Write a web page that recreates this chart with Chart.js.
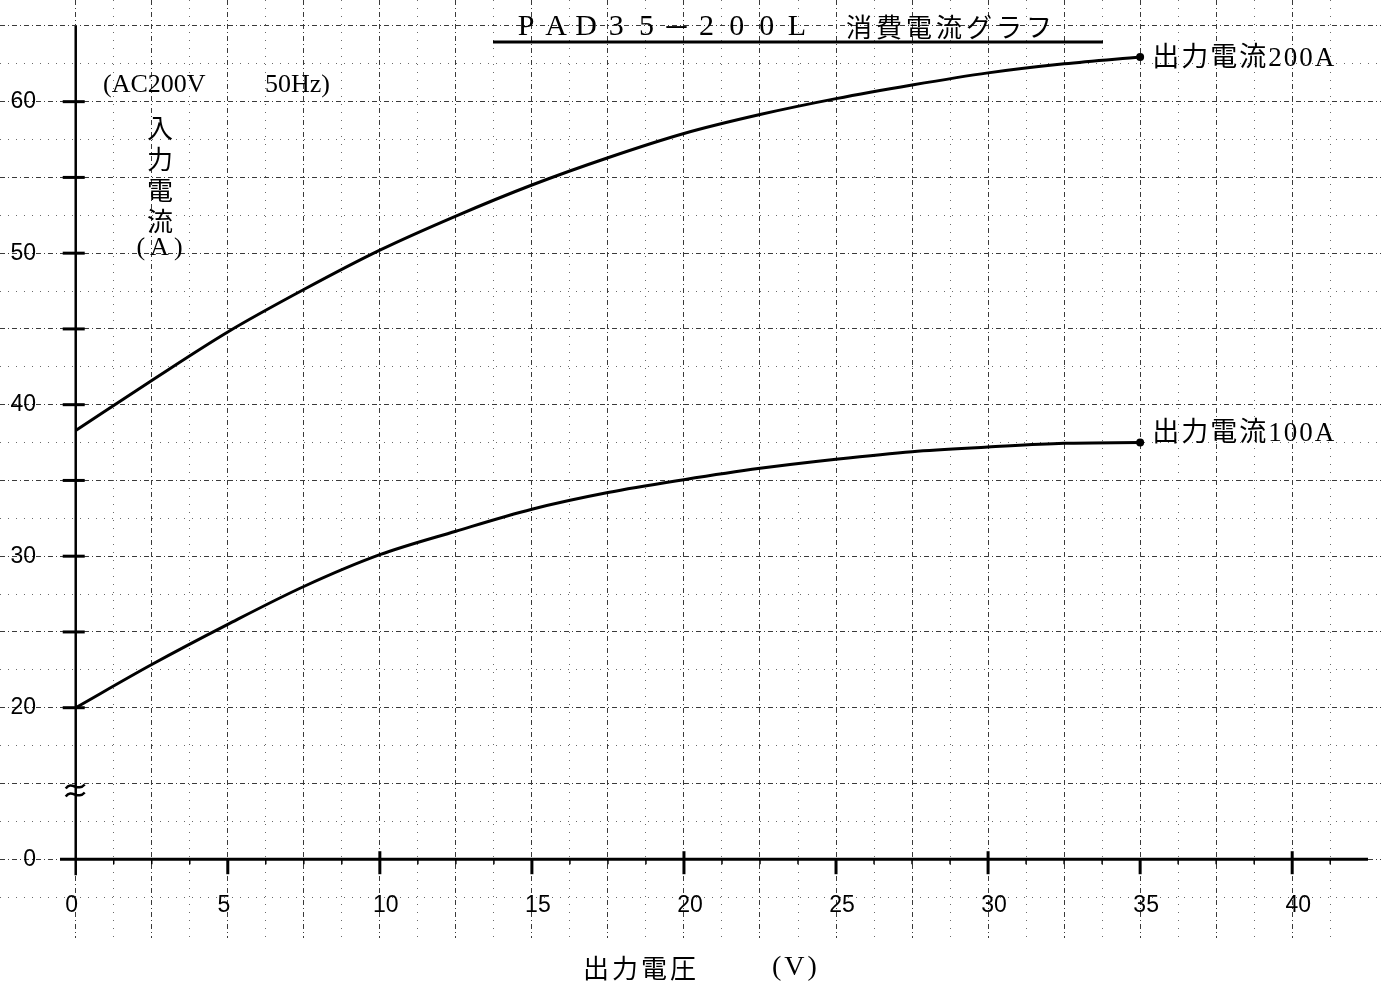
<!DOCTYPE html>
<html>
<head>
<meta charset="utf-8">
<script src="https://cdn.jsdelivr.net/npm/chart.js@4.4.1/dist/chart.umd.min.js"></script>
<style>
  html, body { margin: 0; padding: 0; background: #fff; }
  #wrap { width: 1381px; height: 984px; }
</style>
</head>
<body>
<div id="wrap"><canvas id="currentChart"></canvas></div>
<script>
// output voltage (V)
const voltage = [0, 2.5, 5, 7.5, 10, 12.5, 15, 17.5, 20, 22.5, 25, 27.5, 30, 32.5, 35];
// input current (A)
const current200 = [38.3, 41.6, 44.8, 47.6, 50.2, 52.45, 54.5, 56.3, 57.9, 59.15, 60.2, 61.1, 61.9, 62.5, 62.95];
const current100 = [20.0, 22.85, 25.5, 28.0, 30.1, 31.65, 33.1, 34.2, 35.05, 35.8, 36.4, 36.9, 37.2, 37.45, 37.5];
const seriesNames = ['出力電流200A', '出力電流100A'];

const xTicks = [0, 5, 10, 15, 20, 25, 30, 35, 40];
const yTicks = [0, 20, 30, 40, 50, 60];

// y axis is broken: 0..20 is squeezed into 10 units
function brokenY(v) { return v >= 20 ? v : 10 + v / 2; }

const ctx = document.getElementById('currentChart').getContext('2d');

function gridColor(step, color) {
  return c => {
    const v = c.tick.value;
    const r = Math.abs(v / step - Math.round(v / step));
    return r < 1e-6 ? color : 'rgba(0,0,0,0)';
  };
}
function minorColor(step, majorStep, color) {
  return c => {
    const v = c.tick.value;
    const onStep = Math.abs(v / step - Math.round(v / step)) < 1e-6;
    const onMajor = Math.abs(v / majorStep - Math.round(v / majorStep)) < 1e-6;
    return onStep && !onMajor ? color : 'rgba(0,0,0,0)';
  };
}

const paperAxes = {
  id: 'paperAxes',
  afterDraw(chart) {
    const c = chart.ctx;
    const x = chart.scales.x, y = chart.scales.y;
    const x0 = x.getPixelForValue(0);
    const y0 = y.getPixelForValue(brokenY(0));
    const seg = (a, b, d, e) => { c.beginPath(); c.moveTo(a, b); c.lineTo(d, e); c.stroke(); };

    c.save();
    c.strokeStyle = '#000';
    c.fillStyle = '#000';

    // axes
    c.lineWidth = 3;
    seg(60, y0, 1368, y0);
    c.lineWidth = 2.5;
    seg(x0, y.getPixelForValue(65), x0, y0 + 16);

    // y tick marks
    c.lineWidth = 3;
    for (let v = 20; v <= 60; v += 5) {
      const py = y.getPixelForValue(v);
      seg(x0 - 13, py, x0 + 9, py);
    }
    // x tick marks
    for (let v = 5; v <= 40; v += 5) {
      const px = x.getPixelForValue(v);
      c.lineWidth = 3;
      seg(px, v % 10 === 0 ? y0 - 8 : y0, px, y0 + 15);
    }
    c.lineWidth = 1.5;
    for (let v = 1.25; v < 42; v += 1.25) {
      if (v % 5 === 0) continue;
      const px = x.getPixelForValue(v);
      seg(px, y0, px, y0 + 5);
    }

    // break mark
    const by = y.getPixelForValue(brokenY(10)) + 7;
    c.lineWidth = 2.5;
    for (const dy of [-4, 4]) {
      c.beginPath();
      c.moveTo(x0 - 10, by + dy + 2);
      c.bezierCurveTo(x0 - 4, by + dy - 6, x0 + 2, by + dy + 6, x0 + 9, by + dy - 2);
      c.stroke();
    }

    // tick labels
    c.font = '23px "Liberation Sans", sans-serif';
    c.textBaseline = 'middle';
    c.textAlign = 'right';
    yTicks.forEach(v => c.fillText(String(v), 36, y.getPixelForValue(brokenY(v))));
    c.textAlign = 'center';
    xTicks.forEach(v => {
      const s = String(v);
      c.fillText(s, x.getPixelForValue(v) + (s.length > 1 ? 6 : -4), 906);
    });

    // axis titles
    c.font = '26px "Noto Sans CJK JP"';
    c.textAlign = 'left';
    c.letterSpacing = '3px';
    c.fillText('出力電圧', 583, 968);
    c.font = '28px "Liberation Serif", serif';
    c.fillText('(V)', 772, 968);
    c.letterSpacing = '0px';

    c.font = '26px "Noto Sans CJK JP"';
    c.textAlign = 'center';
    ['入', '力', '電', '流'].forEach((ch, i) => c.fillText(ch, 160, 128 + i * 31));
    c.font = '26px "Liberation Serif", serif';
    c.letterSpacing = '5px';
    c.fillText('(A)', 162, 248);
    c.letterSpacing = '0px';

    c.font = '26px "Liberation Serif", serif';
    c.textAlign = 'left';
    c.fillText('(AC200V', 103, 85);
    c.fillText('50Hz)', 265, 85);

    // series labels at line ends
    c.font = '27px "Liberation Serif", "Noto Sans CJK JP"';
    c.letterSpacing = '2px';
    chart.data.datasets.forEach((ds, i) => {
      const n = ds.data.length - 1;
      const px = x.getPixelForValue(voltage[n]);
      const py = y.getPixelForValue(ds.data[n]);
      c.fillText(seriesNames[i], px + 12, py + (i === 0 ? 2 : -9));
    });
    c.letterSpacing = '0px';

    // title
    c.textAlign = 'center';
    'PAD35－200L'.split('').forEach((ch, i) => {
      c.font = ch === '－' ? '28px "Noto Sans CJK JP"' : '30px "Liberation Serif", serif';
      c.fillText(ch, 526 + i * 30.1, 27);
    });
    c.textAlign = 'left';
    c.font = '26px "Noto Sans CJK JP"';
    c.letterSpacing = '4px';
    c.fillText('消費電流グラフ', 846, 27);
    c.letterSpacing = '0px';
    c.lineWidth = 3;
    seg(493, 42, 1103, 42);

    c.restore();
  }
};

const lineStyle = {
  borderColor: '#000',
  borderWidth: 3,
  backgroundColor: '#000',
  pointRadius: c => c.dataIndex === voltage.length - 1 ? 2.5 : 0,
  cubicInterpolationMode: 'monotone',
  fill: false
};

const currentChart = new Chart(ctx, {
  type: 'line',
  data: {
    labels: voltage,
    datasets: [
      { label: seriesNames[0], data: current200, ...lineStyle },
      { label: seriesNames[1], data: current100, ...lineStyle }
    ]
  },
  options: {
    responsive: true,
    maintainAspectRatio: false,
    animation: false,
    layout: { autoPadding: false, padding: { left: 0, right: 0, top: 0, bottom: 46 } },
    plugins: { legend: { display: false }, tooltip: { enabled: false } },
    scales: {
      x: {
        type: 'linear', min: -2.49, max: 42.92,
        ticks: { display: false, stepSize: 2.5 },
        grid: { drawTicks: false, color: gridColor(2.5, '#3a3a3a'), lineWidth: 1 },
        border: { display: false, dash: [5, 3, 1, 3] }
      },
      xMinor: {
        type: 'linear', position: 'bottom', min: -2.49, max: 42.92,
        ticks: { display: false, stepSize: 1.25 },
        grid: { drawTicks: false, color: minorColor(1.25, 2.5, '#6a6a6a'), lineWidth: 1 },
        border: { display: false, dash: [1, 7] }
      },
      y: {
        type: 'linear', min: 4.8, max: 66.71,
        ticks: { display: false, stepSize: 5 },
        grid: { drawTicks: false, color: gridColor(5, '#3a3a3a'), lineWidth: 1 },
        border: { display: false, dash: [5, 3, 1, 3] }
      },
      yMinor: {
        type: 'linear', position: 'left', min: 4.8, max: 66.71,
        ticks: { display: false, stepSize: 2.5 },
        grid: { drawTicks: false, color: minorColor(2.5, 5, '#6a6a6a'), lineWidth: 1 },
        border: { display: false, dash: [1, 7] }
      }
    }
  },
  plugins: [paperAxes]
});
</script>
</body>
</html>
